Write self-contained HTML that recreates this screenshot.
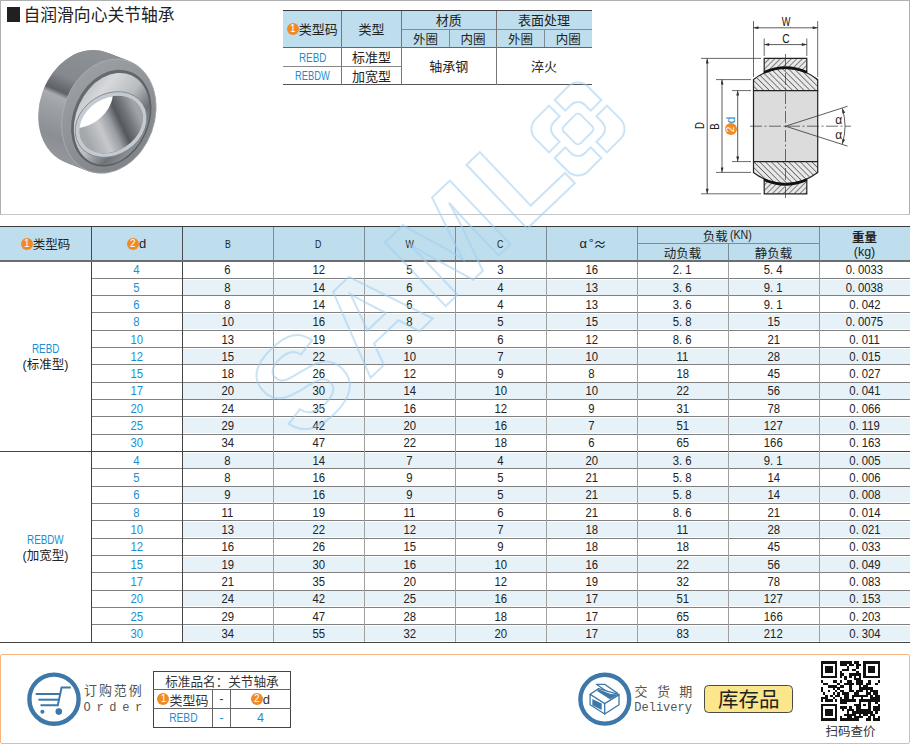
<!DOCTYPE html><html><head><meta charset="utf-8"><title>自润滑向心关节轴承</title><style>
*{margin:0;padding:0;box-sizing:border-box}
html,body{width:910px;height:744px;overflow:hidden;background:#fff}
body{position:relative;font-family:"Liberation Sans", "Noto Sans CJK SC", sans-serif;color:#222}
.ab{position:absolute}
.ln{position:absolute;background:#777}
.c{position:absolute;display:flex;align-items:center;justify-content:center;white-space:nowrap}
.n{font-family:"Liberation Sans",sans-serif;font-size:12.3px;color:#222}
.n span{display:inline-block;transform:scaleX(.92)}
.b{color:#1a8fd0}
i.p{font-style:normal;display:inline-block;width:6.6px;text-align:left}
.oc{display:inline-block;width:12px;height:12px;border-radius:50%;background:#f08a24;color:#fff;font-family:"Liberation Sans",sans-serif;font-size:10px;line-height:12px;text-align:center;vertical-align:middle}
.hd{font-size:12.5px;color:#222}
.lat{font-family:"Liberation Sans",sans-serif}
</style></head><body>
<div class="ab" style="left:0;top:227px;width:910px;height:33px;background:#bedeee"></div>
<div class="ab" style="left:183px;top:279.52px;width:727px;height:15.12px;background:#e6f1f8"></div>
<div class="ab" style="left:183px;top:314.16px;width:727px;height:15.12px;background:#e6f1f8"></div>
<div class="ab" style="left:183px;top:348.80px;width:727px;height:15.12px;background:#e6f1f8"></div>
<div class="ab" style="left:183px;top:383.44px;width:727px;height:15.12px;background:#e6f1f8"></div>
<div class="ab" style="left:183px;top:418.08px;width:727px;height:15.12px;background:#e6f1f8"></div>
<div class="ab" style="left:183px;top:452.72px;width:727px;height:15.12px;background:#e6f1f8"></div>
<div class="ab" style="left:183px;top:487.36px;width:727px;height:15.12px;background:#e6f1f8"></div>
<div class="ab" style="left:183px;top:522.00px;width:727px;height:15.12px;background:#e6f1f8"></div>
<div class="ab" style="left:183px;top:556.64px;width:727px;height:15.12px;background:#e6f1f8"></div>
<div class="ab" style="left:183px;top:591.28px;width:727px;height:15.12px;background:#e6f1f8"></div>
<div class="ab" style="left:183px;top:625.92px;width:727px;height:15.12px;background:#e6f1f8"></div>
<div class="ln" style="left:0;top:226px;width:910px;height:1.4px;background:#3a3a3a"></div>
<div class="ln" style="left:0;top:260px;width:910px;height:2px;background:#6a6e72"></div>
<div class="ln" style="left:637px;top:243px;width:182px;height:1px;background:#7d8c96"></div>
<div class="ln" style="left:91px;top:277.82px;width:819px;height:1px;background:#808080"></div>
<div class="ln" style="left:91px;top:295.14px;width:819px;height:1px;background:#808080"></div>
<div class="ln" style="left:91px;top:312.46px;width:819px;height:1px;background:#808080"></div>
<div class="ln" style="left:91px;top:329.78px;width:819px;height:1px;background:#808080"></div>
<div class="ln" style="left:91px;top:347.10px;width:819px;height:1px;background:#808080"></div>
<div class="ln" style="left:91px;top:364.42px;width:819px;height:1px;background:#808080"></div>
<div class="ln" style="left:91px;top:381.74px;width:819px;height:1px;background:#808080"></div>
<div class="ln" style="left:91px;top:399.06px;width:819px;height:1px;background:#808080"></div>
<div class="ln" style="left:91px;top:416.38px;width:819px;height:1px;background:#808080"></div>
<div class="ln" style="left:91px;top:433.70px;width:819px;height:1px;background:#808080"></div>
<div class="ln" style="left:0;top:451.02px;width:910px;height:1.3px;background:#444"></div>
<div class="ln" style="left:91px;top:468.34px;width:819px;height:1px;background:#808080"></div>
<div class="ln" style="left:91px;top:485.66px;width:819px;height:1px;background:#808080"></div>
<div class="ln" style="left:91px;top:502.98px;width:819px;height:1px;background:#808080"></div>
<div class="ln" style="left:91px;top:520.30px;width:819px;height:1px;background:#808080"></div>
<div class="ln" style="left:91px;top:537.62px;width:819px;height:1px;background:#808080"></div>
<div class="ln" style="left:91px;top:554.94px;width:819px;height:1px;background:#808080"></div>
<div class="ln" style="left:91px;top:572.26px;width:819px;height:1px;background:#808080"></div>
<div class="ln" style="left:91px;top:589.58px;width:819px;height:1px;background:#808080"></div>
<div class="ln" style="left:91px;top:606.90px;width:819px;height:1px;background:#808080"></div>
<div class="ln" style="left:91px;top:624.22px;width:819px;height:1px;background:#808080"></div>
<div class="ln" style="left:0;top:641.5px;width:910px;height:1.4px;background:#444"></div>
<div class="ln" style="left:90.5px;top:227px;width:1px;height:33px;background:#4a4a4a"></div>
<div class="ln" style="left:90.5px;top:262px;width:1.3px;height:380px;background:#444"></div>
<div class="ln" style="left:181.5px;top:227px;width:1px;height:33px;background:#4a4a4a"></div>
<div class="ln" style="left:181.5px;top:262px;width:1.3px;height:380px;background:#444"></div>
<div class="ln" style="left:272.5px;top:227px;width:1px;height:33px;background:#7a8c98"></div>
<div class="ln" style="left:272.5px;top:262px;width:1px;height:380px;background:#a0a0a0"></div>
<div class="ln" style="left:363.5px;top:227px;width:1px;height:33px;background:#7a8c98"></div>
<div class="ln" style="left:363.5px;top:262px;width:1px;height:380px;background:#a0a0a0"></div>
<div class="ln" style="left:454.5px;top:227px;width:1px;height:33px;background:#7a8c98"></div>
<div class="ln" style="left:454.5px;top:262px;width:1px;height:380px;background:#a0a0a0"></div>
<div class="ln" style="left:545.5px;top:227px;width:1px;height:33px;background:#7a8c98"></div>
<div class="ln" style="left:545.5px;top:262px;width:1px;height:380px;background:#a0a0a0"></div>
<div class="ln" style="left:636.5px;top:227px;width:1px;height:33px;background:#7a8c98"></div>
<div class="ln" style="left:636.5px;top:262px;width:1px;height:380px;background:#a0a0a0"></div>
<div class="ln" style="left:727.5px;top:243.5px;width:1px;height:16.5px;background:#7a8c98"></div>
<div class="ln" style="left:727.5px;top:262px;width:1px;height:380px;background:#a0a0a0"></div>
<div class="ln" style="left:818.5px;top:227px;width:1px;height:33px;background:#7a8c98"></div>
<div class="ln" style="left:818.5px;top:262px;width:1px;height:380px;background:#a0a0a0"></div>
<div class="c" style="left:0.0px;top:226.5px;width:91.0px;height:34.5px;"><span class="oc">1</span><span class="hd">类型码</span></div>
<div class="c" style="left:91.0px;top:226.5px;width:91.0px;height:34.5px;"><span class="oc">2</span><span class="hd lat" style="font-size:13px">d</span></div>
<div class="c" style="left:182.0px;top:226.5px;width:91.0px;height:34.5px;"><span class="hd lat" style="font-size:11.8px;display:inline-block;transform:scaleX(.74)">B</span></div>
<div class="c" style="left:273.0px;top:226.5px;width:91.0px;height:34.5px;"><span class="hd lat" style="font-size:11.8px;display:inline-block;transform:scaleX(.74)">D</span></div>
<div class="c" style="left:364.0px;top:226.5px;width:91.0px;height:34.5px;"><span class="hd lat" style="font-size:11.8px;display:inline-block;transform:scaleX(.74)">W</span></div>
<div class="c" style="left:455.0px;top:226.5px;width:91.0px;height:34.5px;"><span class="hd lat" style="font-size:11.8px;display:inline-block;transform:scaleX(.74)">C</span></div>
<div class="c" style="left:546.0px;top:226.5px;width:91.0px;height:34.5px;"><span class="hd" style="font-size:13px;padding-left:3px">α</span><span class="hd" style="font-family:'Noto Sans CJK SC',sans-serif;font-size:12px;margin-left:2px;position:relative;top:-1px">°</span><span class="hd" style="font-family:'Noto Sans CJK SC',sans-serif;font-size:13px">≈</span></div>
<div class="c" style="left:637.0px;top:226.5px;width:182.0px;height:17.0px;"><span class="hd">负载</span><span class="hd" style="display:inline-block;transform:scaleX(.85);margin-left:0px">(KN)</span></div>
<div class="c" style="left:637.0px;top:243.5px;width:91.0px;height:17.5px;"><span class="hd">动负载</span></div>
<div class="c" style="left:728.0px;top:243.5px;width:91.0px;height:17.5px;"><span class="hd">静负载</span></div>
<div class="c" style="left:819.0px;top:229.0px;width:91.0px;height:15.0px;"><span class="hd" style="font-weight:bold">重量</span></div>
<div class="c" style="left:819.0px;top:244.0px;width:91.0px;height:15.0px;"><span class="hd">(kg)</span></div>
<div class="c" style="left:0.0px;top:341.3px;width:91.0px;height:15.0px;padding-top:1px"><span class="b lat" style="font-size:12px;display:inline-block;transform:scaleX(.82)">REBD</span></div>
<div class="c" style="left:0.0px;top:356.3px;width:91.0px;height:15.0px;padding-bottom:0px"><span style="font-size:12.5px">(标准型)</span></div>
<div class="c" style="left:0.0px;top:531.8px;width:91.0px;height:15.0px;padding-top:1px"><span class="b lat" style="font-size:12px;display:inline-block;transform:scaleX(.82)">REBDW</span></div>
<div class="c" style="left:0.0px;top:546.8px;width:91.0px;height:15.0px;padding-bottom:0px"><span style="font-size:12.5px">(加宽型)</span></div>
<div class="c n b" style="left:91.0px;top:261.6px;width:91.0px;height:17.3px;"><span>4</span></div>
<div class="c n" style="left:182.0px;top:261.6px;width:91.0px;height:17.3px;"><span>6</span></div>
<div class="c n" style="left:273.0px;top:261.6px;width:91.0px;height:17.3px;"><span>12</span></div>
<div class="c n" style="left:364.0px;top:261.6px;width:91.0px;height:17.3px;"><span>5</span></div>
<div class="c n" style="left:455.0px;top:261.6px;width:91.0px;height:17.3px;"><span>3</span></div>
<div class="c n" style="left:546.0px;top:261.6px;width:91.0px;height:17.3px;"><span>16</span></div>
<div class="c n" style="left:637.0px;top:261.6px;width:91.0px;height:17.3px;"><span>2<i class="p">.</i>1</span></div>
<div class="c n" style="left:728.0px;top:261.6px;width:91.0px;height:17.3px;"><span>5<i class="p">.</i>4</span></div>
<div class="c n" style="left:819.0px;top:261.6px;width:91.0px;height:17.3px;"><span>0<i class="p">.</i>0033</span></div>
<div class="c n b" style="left:91.0px;top:278.9px;width:91.0px;height:17.3px;"><span>5</span></div>
<div class="c n" style="left:182.0px;top:278.9px;width:91.0px;height:17.3px;"><span>8</span></div>
<div class="c n" style="left:273.0px;top:278.9px;width:91.0px;height:17.3px;"><span>14</span></div>
<div class="c n" style="left:364.0px;top:278.9px;width:91.0px;height:17.3px;"><span>6</span></div>
<div class="c n" style="left:455.0px;top:278.9px;width:91.0px;height:17.3px;"><span>4</span></div>
<div class="c n" style="left:546.0px;top:278.9px;width:91.0px;height:17.3px;"><span>13</span></div>
<div class="c n" style="left:637.0px;top:278.9px;width:91.0px;height:17.3px;"><span>3<i class="p">.</i>6</span></div>
<div class="c n" style="left:728.0px;top:278.9px;width:91.0px;height:17.3px;"><span>9<i class="p">.</i>1</span></div>
<div class="c n" style="left:819.0px;top:278.9px;width:91.0px;height:17.3px;"><span>0<i class="p">.</i>0038</span></div>
<div class="c n b" style="left:91.0px;top:296.2px;width:91.0px;height:17.3px;"><span>6</span></div>
<div class="c n" style="left:182.0px;top:296.2px;width:91.0px;height:17.3px;"><span>8</span></div>
<div class="c n" style="left:273.0px;top:296.2px;width:91.0px;height:17.3px;"><span>14</span></div>
<div class="c n" style="left:364.0px;top:296.2px;width:91.0px;height:17.3px;"><span>6</span></div>
<div class="c n" style="left:455.0px;top:296.2px;width:91.0px;height:17.3px;"><span>4</span></div>
<div class="c n" style="left:546.0px;top:296.2px;width:91.0px;height:17.3px;"><span>13</span></div>
<div class="c n" style="left:637.0px;top:296.2px;width:91.0px;height:17.3px;"><span>3<i class="p">.</i>6</span></div>
<div class="c n" style="left:728.0px;top:296.2px;width:91.0px;height:17.3px;"><span>9<i class="p">.</i>1</span></div>
<div class="c n" style="left:819.0px;top:296.2px;width:91.0px;height:17.3px;"><span>0<i class="p">.</i>042</span></div>
<div class="c n b" style="left:91.0px;top:313.6px;width:91.0px;height:17.3px;"><span>8</span></div>
<div class="c n" style="left:182.0px;top:313.6px;width:91.0px;height:17.3px;"><span>10</span></div>
<div class="c n" style="left:273.0px;top:313.6px;width:91.0px;height:17.3px;"><span>16</span></div>
<div class="c n" style="left:364.0px;top:313.6px;width:91.0px;height:17.3px;"><span>8</span></div>
<div class="c n" style="left:455.0px;top:313.6px;width:91.0px;height:17.3px;"><span>5</span></div>
<div class="c n" style="left:546.0px;top:313.6px;width:91.0px;height:17.3px;"><span>15</span></div>
<div class="c n" style="left:637.0px;top:313.6px;width:91.0px;height:17.3px;"><span>5<i class="p">.</i>8</span></div>
<div class="c n" style="left:728.0px;top:313.6px;width:91.0px;height:17.3px;"><span>15</span></div>
<div class="c n" style="left:819.0px;top:313.6px;width:91.0px;height:17.3px;"><span>0<i class="p">.</i>0075</span></div>
<div class="c n b" style="left:91.0px;top:330.9px;width:91.0px;height:17.3px;"><span>10</span></div>
<div class="c n" style="left:182.0px;top:330.9px;width:91.0px;height:17.3px;"><span>13</span></div>
<div class="c n" style="left:273.0px;top:330.9px;width:91.0px;height:17.3px;"><span>19</span></div>
<div class="c n" style="left:364.0px;top:330.9px;width:91.0px;height:17.3px;"><span>9</span></div>
<div class="c n" style="left:455.0px;top:330.9px;width:91.0px;height:17.3px;"><span>6</span></div>
<div class="c n" style="left:546.0px;top:330.9px;width:91.0px;height:17.3px;"><span>12</span></div>
<div class="c n" style="left:637.0px;top:330.9px;width:91.0px;height:17.3px;"><span>8<i class="p">.</i>6</span></div>
<div class="c n" style="left:728.0px;top:330.9px;width:91.0px;height:17.3px;"><span>21</span></div>
<div class="c n" style="left:819.0px;top:330.9px;width:91.0px;height:17.3px;"><span>0<i class="p">.</i>011</span></div>
<div class="c n b" style="left:91.0px;top:348.2px;width:91.0px;height:17.3px;"><span>12</span></div>
<div class="c n" style="left:182.0px;top:348.2px;width:91.0px;height:17.3px;"><span>15</span></div>
<div class="c n" style="left:273.0px;top:348.2px;width:91.0px;height:17.3px;"><span>22</span></div>
<div class="c n" style="left:364.0px;top:348.2px;width:91.0px;height:17.3px;"><span>10</span></div>
<div class="c n" style="left:455.0px;top:348.2px;width:91.0px;height:17.3px;"><span>7</span></div>
<div class="c n" style="left:546.0px;top:348.2px;width:91.0px;height:17.3px;"><span>10</span></div>
<div class="c n" style="left:637.0px;top:348.2px;width:91.0px;height:17.3px;"><span>11</span></div>
<div class="c n" style="left:728.0px;top:348.2px;width:91.0px;height:17.3px;"><span>28</span></div>
<div class="c n" style="left:819.0px;top:348.2px;width:91.0px;height:17.3px;"><span>0<i class="p">.</i>015</span></div>
<div class="c n b" style="left:91.0px;top:365.5px;width:91.0px;height:17.3px;"><span>15</span></div>
<div class="c n" style="left:182.0px;top:365.5px;width:91.0px;height:17.3px;"><span>18</span></div>
<div class="c n" style="left:273.0px;top:365.5px;width:91.0px;height:17.3px;"><span>26</span></div>
<div class="c n" style="left:364.0px;top:365.5px;width:91.0px;height:17.3px;"><span>12</span></div>
<div class="c n" style="left:455.0px;top:365.5px;width:91.0px;height:17.3px;"><span>9</span></div>
<div class="c n" style="left:546.0px;top:365.5px;width:91.0px;height:17.3px;"><span>8</span></div>
<div class="c n" style="left:637.0px;top:365.5px;width:91.0px;height:17.3px;"><span>18</span></div>
<div class="c n" style="left:728.0px;top:365.5px;width:91.0px;height:17.3px;"><span>45</span></div>
<div class="c n" style="left:819.0px;top:365.5px;width:91.0px;height:17.3px;"><span>0<i class="p">.</i>027</span></div>
<div class="c n b" style="left:91.0px;top:382.8px;width:91.0px;height:17.3px;"><span>17</span></div>
<div class="c n" style="left:182.0px;top:382.8px;width:91.0px;height:17.3px;"><span>20</span></div>
<div class="c n" style="left:273.0px;top:382.8px;width:91.0px;height:17.3px;"><span>30</span></div>
<div class="c n" style="left:364.0px;top:382.8px;width:91.0px;height:17.3px;"><span>14</span></div>
<div class="c n" style="left:455.0px;top:382.8px;width:91.0px;height:17.3px;"><span>10</span></div>
<div class="c n" style="left:546.0px;top:382.8px;width:91.0px;height:17.3px;"><span>10</span></div>
<div class="c n" style="left:637.0px;top:382.8px;width:91.0px;height:17.3px;"><span>22</span></div>
<div class="c n" style="left:728.0px;top:382.8px;width:91.0px;height:17.3px;"><span>56</span></div>
<div class="c n" style="left:819.0px;top:382.8px;width:91.0px;height:17.3px;"><span>0<i class="p">.</i>041</span></div>
<div class="c n b" style="left:91.0px;top:400.2px;width:91.0px;height:17.3px;"><span>20</span></div>
<div class="c n" style="left:182.0px;top:400.2px;width:91.0px;height:17.3px;"><span>24</span></div>
<div class="c n" style="left:273.0px;top:400.2px;width:91.0px;height:17.3px;"><span>35</span></div>
<div class="c n" style="left:364.0px;top:400.2px;width:91.0px;height:17.3px;"><span>16</span></div>
<div class="c n" style="left:455.0px;top:400.2px;width:91.0px;height:17.3px;"><span>12</span></div>
<div class="c n" style="left:546.0px;top:400.2px;width:91.0px;height:17.3px;"><span>9</span></div>
<div class="c n" style="left:637.0px;top:400.2px;width:91.0px;height:17.3px;"><span>31</span></div>
<div class="c n" style="left:728.0px;top:400.2px;width:91.0px;height:17.3px;"><span>78</span></div>
<div class="c n" style="left:819.0px;top:400.2px;width:91.0px;height:17.3px;"><span>0<i class="p">.</i>066</span></div>
<div class="c n b" style="left:91.0px;top:417.5px;width:91.0px;height:17.3px;"><span>25</span></div>
<div class="c n" style="left:182.0px;top:417.5px;width:91.0px;height:17.3px;"><span>29</span></div>
<div class="c n" style="left:273.0px;top:417.5px;width:91.0px;height:17.3px;"><span>42</span></div>
<div class="c n" style="left:364.0px;top:417.5px;width:91.0px;height:17.3px;"><span>20</span></div>
<div class="c n" style="left:455.0px;top:417.5px;width:91.0px;height:17.3px;"><span>16</span></div>
<div class="c n" style="left:546.0px;top:417.5px;width:91.0px;height:17.3px;"><span>7</span></div>
<div class="c n" style="left:637.0px;top:417.5px;width:91.0px;height:17.3px;"><span>51</span></div>
<div class="c n" style="left:728.0px;top:417.5px;width:91.0px;height:17.3px;"><span>127</span></div>
<div class="c n" style="left:819.0px;top:417.5px;width:91.0px;height:17.3px;"><span>0<i class="p">.</i>119</span></div>
<div class="c n b" style="left:91.0px;top:434.8px;width:91.0px;height:17.3px;"><span>30</span></div>
<div class="c n" style="left:182.0px;top:434.8px;width:91.0px;height:17.3px;"><span>34</span></div>
<div class="c n" style="left:273.0px;top:434.8px;width:91.0px;height:17.3px;"><span>47</span></div>
<div class="c n" style="left:364.0px;top:434.8px;width:91.0px;height:17.3px;"><span>22</span></div>
<div class="c n" style="left:455.0px;top:434.8px;width:91.0px;height:17.3px;"><span>18</span></div>
<div class="c n" style="left:546.0px;top:434.8px;width:91.0px;height:17.3px;"><span>6</span></div>
<div class="c n" style="left:637.0px;top:434.8px;width:91.0px;height:17.3px;"><span>65</span></div>
<div class="c n" style="left:728.0px;top:434.8px;width:91.0px;height:17.3px;"><span>166</span></div>
<div class="c n" style="left:819.0px;top:434.8px;width:91.0px;height:17.3px;"><span>0<i class="p">.</i>163</span></div>
<div class="c n b" style="left:91.0px;top:452.1px;width:91.0px;height:17.3px;"><span>4</span></div>
<div class="c n" style="left:182.0px;top:452.1px;width:91.0px;height:17.3px;"><span>8</span></div>
<div class="c n" style="left:273.0px;top:452.1px;width:91.0px;height:17.3px;"><span>14</span></div>
<div class="c n" style="left:364.0px;top:452.1px;width:91.0px;height:17.3px;"><span>7</span></div>
<div class="c n" style="left:455.0px;top:452.1px;width:91.0px;height:17.3px;"><span>4</span></div>
<div class="c n" style="left:546.0px;top:452.1px;width:91.0px;height:17.3px;"><span>20</span></div>
<div class="c n" style="left:637.0px;top:452.1px;width:91.0px;height:17.3px;"><span>3<i class="p">.</i>6</span></div>
<div class="c n" style="left:728.0px;top:452.1px;width:91.0px;height:17.3px;"><span>9<i class="p">.</i>1</span></div>
<div class="c n" style="left:819.0px;top:452.1px;width:91.0px;height:17.3px;"><span>0<i class="p">.</i>005</span></div>
<div class="c n b" style="left:91.0px;top:469.4px;width:91.0px;height:17.3px;"><span>5</span></div>
<div class="c n" style="left:182.0px;top:469.4px;width:91.0px;height:17.3px;"><span>8</span></div>
<div class="c n" style="left:273.0px;top:469.4px;width:91.0px;height:17.3px;"><span>16</span></div>
<div class="c n" style="left:364.0px;top:469.4px;width:91.0px;height:17.3px;"><span>9</span></div>
<div class="c n" style="left:455.0px;top:469.4px;width:91.0px;height:17.3px;"><span>5</span></div>
<div class="c n" style="left:546.0px;top:469.4px;width:91.0px;height:17.3px;"><span>21</span></div>
<div class="c n" style="left:637.0px;top:469.4px;width:91.0px;height:17.3px;"><span>5<i class="p">.</i>8</span></div>
<div class="c n" style="left:728.0px;top:469.4px;width:91.0px;height:17.3px;"><span>14</span></div>
<div class="c n" style="left:819.0px;top:469.4px;width:91.0px;height:17.3px;"><span>0<i class="p">.</i>006</span></div>
<div class="c n b" style="left:91.0px;top:486.8px;width:91.0px;height:17.3px;"><span>6</span></div>
<div class="c n" style="left:182.0px;top:486.8px;width:91.0px;height:17.3px;"><span>9</span></div>
<div class="c n" style="left:273.0px;top:486.8px;width:91.0px;height:17.3px;"><span>16</span></div>
<div class="c n" style="left:364.0px;top:486.8px;width:91.0px;height:17.3px;"><span>9</span></div>
<div class="c n" style="left:455.0px;top:486.8px;width:91.0px;height:17.3px;"><span>5</span></div>
<div class="c n" style="left:546.0px;top:486.8px;width:91.0px;height:17.3px;"><span>21</span></div>
<div class="c n" style="left:637.0px;top:486.8px;width:91.0px;height:17.3px;"><span>5<i class="p">.</i>8</span></div>
<div class="c n" style="left:728.0px;top:486.8px;width:91.0px;height:17.3px;"><span>14</span></div>
<div class="c n" style="left:819.0px;top:486.8px;width:91.0px;height:17.3px;"><span>0<i class="p">.</i>008</span></div>
<div class="c n b" style="left:91.0px;top:504.1px;width:91.0px;height:17.3px;"><span>8</span></div>
<div class="c n" style="left:182.0px;top:504.1px;width:91.0px;height:17.3px;"><span>11</span></div>
<div class="c n" style="left:273.0px;top:504.1px;width:91.0px;height:17.3px;"><span>19</span></div>
<div class="c n" style="left:364.0px;top:504.1px;width:91.0px;height:17.3px;"><span>11</span></div>
<div class="c n" style="left:455.0px;top:504.1px;width:91.0px;height:17.3px;"><span>6</span></div>
<div class="c n" style="left:546.0px;top:504.1px;width:91.0px;height:17.3px;"><span>21</span></div>
<div class="c n" style="left:637.0px;top:504.1px;width:91.0px;height:17.3px;"><span>8<i class="p">.</i>6</span></div>
<div class="c n" style="left:728.0px;top:504.1px;width:91.0px;height:17.3px;"><span>21</span></div>
<div class="c n" style="left:819.0px;top:504.1px;width:91.0px;height:17.3px;"><span>0<i class="p">.</i>014</span></div>
<div class="c n b" style="left:91.0px;top:521.4px;width:91.0px;height:17.3px;"><span>10</span></div>
<div class="c n" style="left:182.0px;top:521.4px;width:91.0px;height:17.3px;"><span>13</span></div>
<div class="c n" style="left:273.0px;top:521.4px;width:91.0px;height:17.3px;"><span>22</span></div>
<div class="c n" style="left:364.0px;top:521.4px;width:91.0px;height:17.3px;"><span>12</span></div>
<div class="c n" style="left:455.0px;top:521.4px;width:91.0px;height:17.3px;"><span>7</span></div>
<div class="c n" style="left:546.0px;top:521.4px;width:91.0px;height:17.3px;"><span>18</span></div>
<div class="c n" style="left:637.0px;top:521.4px;width:91.0px;height:17.3px;"><span>11</span></div>
<div class="c n" style="left:728.0px;top:521.4px;width:91.0px;height:17.3px;"><span>28</span></div>
<div class="c n" style="left:819.0px;top:521.4px;width:91.0px;height:17.3px;"><span>0<i class="p">.</i>021</span></div>
<div class="c n b" style="left:91.0px;top:538.7px;width:91.0px;height:17.3px;"><span>12</span></div>
<div class="c n" style="left:182.0px;top:538.7px;width:91.0px;height:17.3px;"><span>16</span></div>
<div class="c n" style="left:273.0px;top:538.7px;width:91.0px;height:17.3px;"><span>26</span></div>
<div class="c n" style="left:364.0px;top:538.7px;width:91.0px;height:17.3px;"><span>15</span></div>
<div class="c n" style="left:455.0px;top:538.7px;width:91.0px;height:17.3px;"><span>9</span></div>
<div class="c n" style="left:546.0px;top:538.7px;width:91.0px;height:17.3px;"><span>18</span></div>
<div class="c n" style="left:637.0px;top:538.7px;width:91.0px;height:17.3px;"><span>18</span></div>
<div class="c n" style="left:728.0px;top:538.7px;width:91.0px;height:17.3px;"><span>45</span></div>
<div class="c n" style="left:819.0px;top:538.7px;width:91.0px;height:17.3px;"><span>0<i class="p">.</i>033</span></div>
<div class="c n b" style="left:91.0px;top:556.0px;width:91.0px;height:17.3px;"><span>15</span></div>
<div class="c n" style="left:182.0px;top:556.0px;width:91.0px;height:17.3px;"><span>19</span></div>
<div class="c n" style="left:273.0px;top:556.0px;width:91.0px;height:17.3px;"><span>30</span></div>
<div class="c n" style="left:364.0px;top:556.0px;width:91.0px;height:17.3px;"><span>16</span></div>
<div class="c n" style="left:455.0px;top:556.0px;width:91.0px;height:17.3px;"><span>10</span></div>
<div class="c n" style="left:546.0px;top:556.0px;width:91.0px;height:17.3px;"><span>16</span></div>
<div class="c n" style="left:637.0px;top:556.0px;width:91.0px;height:17.3px;"><span>22</span></div>
<div class="c n" style="left:728.0px;top:556.0px;width:91.0px;height:17.3px;"><span>56</span></div>
<div class="c n" style="left:819.0px;top:556.0px;width:91.0px;height:17.3px;"><span>0<i class="p">.</i>049</span></div>
<div class="c n b" style="left:91.0px;top:573.4px;width:91.0px;height:17.3px;"><span>17</span></div>
<div class="c n" style="left:182.0px;top:573.4px;width:91.0px;height:17.3px;"><span>21</span></div>
<div class="c n" style="left:273.0px;top:573.4px;width:91.0px;height:17.3px;"><span>35</span></div>
<div class="c n" style="left:364.0px;top:573.4px;width:91.0px;height:17.3px;"><span>20</span></div>
<div class="c n" style="left:455.0px;top:573.4px;width:91.0px;height:17.3px;"><span>12</span></div>
<div class="c n" style="left:546.0px;top:573.4px;width:91.0px;height:17.3px;"><span>19</span></div>
<div class="c n" style="left:637.0px;top:573.4px;width:91.0px;height:17.3px;"><span>32</span></div>
<div class="c n" style="left:728.0px;top:573.4px;width:91.0px;height:17.3px;"><span>78</span></div>
<div class="c n" style="left:819.0px;top:573.4px;width:91.0px;height:17.3px;"><span>0<i class="p">.</i>083</span></div>
<div class="c n b" style="left:91.0px;top:590.7px;width:91.0px;height:17.3px;"><span>20</span></div>
<div class="c n" style="left:182.0px;top:590.7px;width:91.0px;height:17.3px;"><span>24</span></div>
<div class="c n" style="left:273.0px;top:590.7px;width:91.0px;height:17.3px;"><span>42</span></div>
<div class="c n" style="left:364.0px;top:590.7px;width:91.0px;height:17.3px;"><span>25</span></div>
<div class="c n" style="left:455.0px;top:590.7px;width:91.0px;height:17.3px;"><span>16</span></div>
<div class="c n" style="left:546.0px;top:590.7px;width:91.0px;height:17.3px;"><span>17</span></div>
<div class="c n" style="left:637.0px;top:590.7px;width:91.0px;height:17.3px;"><span>51</span></div>
<div class="c n" style="left:728.0px;top:590.7px;width:91.0px;height:17.3px;"><span>127</span></div>
<div class="c n" style="left:819.0px;top:590.7px;width:91.0px;height:17.3px;"><span>0<i class="p">.</i>153</span></div>
<div class="c n b" style="left:91.0px;top:608.0px;width:91.0px;height:17.3px;"><span>25</span></div>
<div class="c n" style="left:182.0px;top:608.0px;width:91.0px;height:17.3px;"><span>29</span></div>
<div class="c n" style="left:273.0px;top:608.0px;width:91.0px;height:17.3px;"><span>47</span></div>
<div class="c n" style="left:364.0px;top:608.0px;width:91.0px;height:17.3px;"><span>28</span></div>
<div class="c n" style="left:455.0px;top:608.0px;width:91.0px;height:17.3px;"><span>18</span></div>
<div class="c n" style="left:546.0px;top:608.0px;width:91.0px;height:17.3px;"><span>17</span></div>
<div class="c n" style="left:637.0px;top:608.0px;width:91.0px;height:17.3px;"><span>65</span></div>
<div class="c n" style="left:728.0px;top:608.0px;width:91.0px;height:17.3px;"><span>166</span></div>
<div class="c n" style="left:819.0px;top:608.0px;width:91.0px;height:17.3px;"><span>0<i class="p">.</i>203</span></div>
<div class="c n b" style="left:91.0px;top:625.3px;width:91.0px;height:17.3px;"><span>30</span></div>
<div class="c n" style="left:182.0px;top:625.3px;width:91.0px;height:17.3px;"><span>34</span></div>
<div class="c n" style="left:273.0px;top:625.3px;width:91.0px;height:17.3px;"><span>55</span></div>
<div class="c n" style="left:364.0px;top:625.3px;width:91.0px;height:17.3px;"><span>32</span></div>
<div class="c n" style="left:455.0px;top:625.3px;width:91.0px;height:17.3px;"><span>20</span></div>
<div class="c n" style="left:546.0px;top:625.3px;width:91.0px;height:17.3px;"><span>17</span></div>
<div class="c n" style="left:637.0px;top:625.3px;width:91.0px;height:17.3px;"><span>83</span></div>
<div class="c n" style="left:728.0px;top:625.3px;width:91.0px;height:17.3px;"><span>212</span></div>
<div class="c n" style="left:819.0px;top:625.3px;width:91.0px;height:17.3px;"><span>0<i class="p">.</i>304</span></div>
<div class="ab" style="left:0;top:0;width:910px;height:214.5px;border:1.2px solid #b0b0b0;border-bottom-color:#c6c6c6"></div>
<div class="ab" style="left:7px;top:7px;width:13px;height:14.5px;background:#231f20"></div>
<div class="ab" style="left:23.5px;top:4.9px;font-size:16.8px;line-height:22px;color:#222;white-space:nowrap">自润滑向心关节轴承</div>
<div class="ab" style="left:282.5px;top:10.5px;width:309.1px;height:36.8px;background:#bedeee"></div>
<div class="ln" style="left:282.5px;top:9.85px;width:309.1px;height:1.3px;background:#3a3a3a"></div>
<div class="ln" style="left:401.3px;top:28.80px;width:190.3px;height:1px;background:#7d8c96"></div>
<div class="ln" style="left:282.5px;top:46.65px;width:309.1px;height:1.3px;background:#666"></div>
<div class="ln" style="left:282.5px;top:66.00px;width:118.8px;height:1px;background:#888"></div>
<div class="ln" style="left:282.5px;top:84.05px;width:309.1px;height:1.3px;background:#555"></div>
<div class="ln" style="left:341.40px;top:10.5px;width:1px;height:74.2px;background:#777"></div>
<div class="ln" style="left:400.80px;top:10.5px;width:1px;height:74.2px;background:#777"></div>
<div class="ln" style="left:495.90px;top:10.5px;width:1px;height:74.2px;background:#777"></div>
<div class="ln" style="left:449.00px;top:29.3px;width:1px;height:18.0px;background:#7d8c96"></div>
<div class="ln" style="left:544.30px;top:29.3px;width:1px;height:18.0px;background:#7d8c96"></div>
<div class="c" style="left:282.5px;top:10.5px;width:59.4px;height:36.8px;"><span class="oc">1</span><span style="font-size:13px">类型码</span></div>
<div class="c" style="left:341.9px;top:10.5px;width:59.4px;height:36.8px;"><span style="font-size:13px">类型</span></div>
<div class="c" style="left:401.3px;top:10.5px;width:95.1px;height:18.8px;"><span style="font-size:13px">材质</span></div>
<div class="c" style="left:496.4px;top:10.5px;width:95.2px;height:18.8px;"><span style="font-size:13px">表面处理</span></div>
<div class="c" style="left:401.3px;top:29.3px;width:48.2px;height:18.0px;"><span style="font-size:12.5px">外圈</span></div>
<div class="c" style="left:449.5px;top:29.3px;width:46.9px;height:18.0px;"><span style="font-size:12.5px">内圈</span></div>
<div class="c" style="left:496.4px;top:29.3px;width:48.4px;height:18.0px;"><span style="font-size:12.5px">外圈</span></div>
<div class="c" style="left:544.8px;top:29.3px;width:46.8px;height:18.0px;"><span style="font-size:12.5px">内圈</span></div>
<div class="c" style="left:282.5px;top:47.3px;width:59.4px;height:19.2px;padding-top:2px"><span class="b lat" style="font-size:12px;display:inline-block;transform:scaleX(.82)">REBD</span></div>
<div class="c" style="left:282.5px;top:66.5px;width:59.4px;height:18.2px;padding-top:1.5px"><span class="b lat" style="font-size:12px;display:inline-block;transform:scaleX(.78)">REBDW</span></div>
<div class="c" style="left:341.9px;top:47.3px;width:59.4px;height:19.2px;"><span style="font-size:13px">标准型</span></div>
<div class="c" style="left:341.9px;top:66.5px;width:59.4px;height:18.2px;"><span style="font-size:13px">加宽型</span></div>
<div class="c" style="left:401.3px;top:47.3px;width:95.1px;height:37.4px;"><span style="font-size:13px">轴承钢</span></div>
<div class="c" style="left:496.4px;top:47.3px;width:95.2px;height:37.4px;"><span style="font-size:13px">淬火</span></div>
<svg class="ab" style="left:0;top:0" width="200" height="200" viewBox="0 0 200 200"><defs><linearGradient id="gBody" gradientUnits="userSpaceOnUse" x1="100" y1="50" x2="50" y2="165"><stop offset="0" stop-color="#8e9297"/><stop offset=".3" stop-color="#858a8f"/><stop offset=".39" stop-color="#6a6e73"/><stop offset=".43" stop-color="#5f6368"/><stop offset=".47" stop-color="#a9adb1"/><stop offset=".56" stop-color="#9da1a6"/><stop offset=".78" stop-color="#8b8f94"/><stop offset="1" stop-color="#979ba0"/></linearGradient><linearGradient id="gFace" gradientUnits="userSpaceOnUse" x1="75" y1="60" x2="145" y2="170"><stop offset="0" stop-color="#9ea1a5"/><stop offset=".5" stop-color="#8f9297"/><stop offset="1" stop-color="#7c7f84"/></linearGradient><linearGradient id="gCh" gradientUnits="userSpaceOnUse" x1="75" y1="70" x2="145" y2="160"><stop offset="0" stop-color="#6a6d72"/><stop offset="1" stop-color="#55585d"/></linearGradient><linearGradient id="gIn" gradientUnits="userSpaceOnUse" x1="80" y1="80" x2="145" y2="130"><stop offset="0" stop-color="#b4b7bb"/><stop offset=".3" stop-color="#d6d8db"/><stop offset=".6" stop-color="#b9bcbf"/><stop offset=".85" stop-color="#6e7176"/><stop offset="1" stop-color="#8a8d91"/></linearGradient><linearGradient id="gBore" gradientUnits="userSpaceOnUse" x1="88" y1="142" x2="140" y2="118"><stop offset="0" stop-color="#a4a7ab"/><stop offset=".3" stop-color="#c6c8cb"/><stop offset=".5" stop-color="#9a9da1"/><stop offset=".66" stop-color="#55585d"/><stop offset=".82" stop-color="#74777c"/><stop offset="1" stop-color="#a0a3a7"/></linearGradient><clipPath id="cBore"><path d="M139.50,106.14 A33.90,26.50 -32.8 1 1 82.50,142.86 A33.90,26.50 -32.8 1 1 139.50,106.14 Z" fill="#000" /></clipPath></defs><path d="M128.35,122.70 A45.60,58.50 20.0 1 1 42.65,91.50 A45.60,58.50 20.0 1 1 128.35,122.70 Z" fill="url(#gBody)" /><path d="M129.65,123.20 A45.60,58.50 20.0 1 1 43.95,92.01 A45.60,58.50 20.0 1 1 129.65,123.20 Z" fill="url(#gBody)" /><path d="M130.95,123.71 A45.60,58.50 20.0 1 1 45.25,92.51 A45.60,58.50 20.0 1 1 130.95,123.71 Z" fill="url(#gBody)" /><path d="M132.25,124.21 A45.60,58.50 20.0 1 1 46.55,93.02 A45.60,58.50 20.0 1 1 132.25,124.21 Z" fill="url(#gBody)" /><path d="M133.55,124.72 A45.60,58.50 20.0 1 1 47.85,93.53 A45.60,58.50 20.0 1 1 133.55,124.72 Z" fill="url(#gBody)" /><path d="M134.85,125.22 A45.60,58.50 20.0 1 1 49.15,94.03 A45.60,58.50 20.0 1 1 134.85,125.22 Z" fill="url(#gBody)" /><path d="M136.15,125.73 A45.60,58.50 20.0 1 1 50.45,94.54 A45.60,58.50 20.0 1 1 136.15,125.73 Z" fill="url(#gBody)" /><path d="M137.45,126.24 A45.60,58.50 20.0 1 1 51.75,95.04 A45.60,58.50 20.0 1 1 137.45,126.24 Z" fill="url(#gBody)" /><path d="M138.75,126.74 A45.60,58.50 20.0 1 1 53.05,95.55 A45.60,58.50 20.0 1 1 138.75,126.74 Z" fill="url(#gBody)" /><path d="M140.05,127.25 A45.60,58.50 20.0 1 1 54.35,96.05 A45.60,58.50 20.0 1 1 140.05,127.25 Z" fill="url(#gBody)" /><path d="M141.35,127.75 A45.60,58.50 20.0 1 1 55.65,96.56 A45.60,58.50 20.0 1 1 141.35,127.75 Z" fill="url(#gBody)" /><path d="M142.65,128.26 A45.60,58.50 20.0 1 1 56.95,97.06 A45.60,58.50 20.0 1 1 142.65,128.26 Z" fill="url(#gBody)" /><path d="M143.95,128.76 A45.60,58.50 20.0 1 1 58.25,97.57 A45.60,58.50 20.0 1 1 143.95,128.76 Z" fill="url(#gBody)" /><path d="M145.25,129.27 A45.60,58.50 20.0 1 1 59.55,98.08 A45.60,58.50 20.0 1 1 145.25,129.27 Z" fill="url(#gBody)" /><path d="M146.55,129.77 A45.60,58.50 20.0 1 1 60.85,98.58 A45.60,58.50 20.0 1 1 146.55,129.77 Z" fill="url(#gBody)" /><path d="M147.85,130.28 A45.60,58.50 20.0 1 1 62.15,99.09 A45.60,58.50 20.0 1 1 147.85,130.28 Z" fill="url(#gBody)" /><path d="M149.15,130.79 A45.60,58.50 20.0 1 1 63.45,99.59 A45.60,58.50 20.0 1 1 149.15,130.79 Z" fill="url(#gBody)" /><path d="M150.45,131.29 A45.60,58.50 20.0 1 1 64.75,100.10 A45.60,58.50 20.0 1 1 150.45,131.29 Z" fill="url(#gBody)" /><path d="M151.75,131.80 A45.60,58.50 20.0 1 1 66.05,100.60 A45.60,58.50 20.0 1 1 151.75,131.80 Z" fill="url(#gBody)" /><path d="M151.75,131.80 A45.60,58.50 20.0 1 1 66.05,100.60 A45.60,58.50 20.0 1 1 151.75,131.80 Z" fill="url(#gFace)" stroke="#b0b3b7" stroke-width="0.7"/><path d="M145.92,133.52 A37.90,49.80 24.0 1 1 76.68,102.68 A37.90,49.80 24.0 1 1 145.92,133.52 Z" fill="url(#gCh)" /><path d="M144.32,133.48 A35.60,47.30 24.0 1 1 79.28,104.52 A35.60,47.30 24.0 1 1 144.32,133.48 Z" fill="url(#gIn)" /><path d="M139.50,106.14 A33.90,26.50 -32.8 1 1 82.50,142.86 A33.90,26.50 -32.8 1 1 139.50,106.14 Z" fill="url(#gBore)" /><g clip-path="url(#cBore)"><path d="M109.50,81.14 A33.90,26.50 -32.8 1 1 52.50,117.86 A33.90,26.50 -32.8 1 1 109.50,81.14 Z" fill="#ffffff" /></g><path d="M141.18,105.05 A35.90,28.50 -32.8 1 1 80.82,143.95 A35.90,28.50 -32.8 1 1 141.18,105.05 Z" fill="none" stroke="#c3cad1" stroke-width="4"/><path d="M142.86,103.97 A37.90,30.50 -32.8 1 1 79.14,145.03 A37.90,30.50 -32.8 1 1 142.86,103.97 Z" fill="none" stroke="#6f7277" stroke-width="0.7"/></svg>
<svg class="ab" style="left:0;top:0" width="910" height="214" viewBox="0 0 910 214"><defs><pattern id="h1" patternUnits="userSpaceOnUse" width="3.9" height="3.9" patternTransform="rotate(45)"><rect width="3.9" height="3.9" fill="#e8e8e8"/><line x1="0" y1="0" x2="0" y2="3.9" stroke="#2a2a2a" stroke-width="1.1"/></pattern><pattern id="h2" patternUnits="userSpaceOnUse" width="4.1" height="4.1" patternTransform="rotate(-45)"><rect width="4.1" height="4.1" fill="#e8e8e8"/><line x1="0" y1="0" x2="0" y2="4.1" stroke="#2a2a2a" stroke-width="1.1"/></pattern><marker id="ar" viewBox="0 0 10 6" refX="10" refY="3" markerWidth="6.5" markerHeight="3" orient="auto-start-reverse" markerUnits="userSpaceOnUse"><path d="M0,0 L10,3 L0,6 z" fill="#333"/></marker></defs><line x1="753.5" y1="21" x2="753.5" y2="77" stroke="#444" stroke-width=".8"/><line x1="817.7" y1="21" x2="817.7" y2="77" stroke="#444" stroke-width=".8"/><line x1="764.2" y1="38.5" x2="764.2" y2="56" stroke="#444" stroke-width=".8"/><line x1="806.8" y1="38.5" x2="806.8" y2="56" stroke="#444" stroke-width=".8"/><line x1="753.5" y1="27.8" x2="817.7" y2="27.8" stroke="#333" stroke-width=".8" marker-start="url(#ar)" marker-end="url(#ar)"/><line x1="764.2" y1="44.6" x2="806.8" y2="44.6" stroke="#333" stroke-width=".8" marker-start="url(#ar)" marker-end="url(#ar)"/><line x1="701" y1="58.4" x2="761" y2="58.4" stroke="#444" stroke-width=".8"/><line x1="701" y1="193.8" x2="761" y2="193.8" stroke="#444" stroke-width=".8"/><line x1="716" y1="79.6" x2="751" y2="79.6" stroke="#444" stroke-width=".8"/><line x1="716" y1="172.4" x2="751" y2="172.4" stroke="#444" stroke-width=".8"/><line x1="732" y1="90.6" x2="751" y2="90.6" stroke="#444" stroke-width=".8"/><line x1="732" y1="161.6" x2="751" y2="161.6" stroke="#444" stroke-width=".8"/><line x1="707.2" y1="58.4" x2="707.2" y2="193.8" stroke="#333" stroke-width=".8" marker-start="url(#ar)" marker-end="url(#ar)"/><line x1="722.0" y1="79.6" x2="722.0" y2="172.4" stroke="#333" stroke-width=".8" marker-start="url(#ar)" marker-end="url(#ar)"/><line x1="737.7" y1="90.6" x2="737.7" y2="161.6" stroke="#333" stroke-width=".8" marker-start="url(#ar)" marker-end="url(#ar)"/><rect x="753.5" y="90.6" width="64.2" height="71" fill="#dcdcdc"/><path d="M753.5,90.6 L753.5,79.4 A52.7,52.7 0 0 1 817.7,79.4 L817.7,90.6 Z" fill="url(#h2)" stroke="#222" stroke-width="1.2"/><path d="M753.5,161.6 L753.5,172.6 A52.7,52.7 0 0 0 817.7,172.6 L817.7,161.6 Z" fill="url(#h2)" stroke="#222" stroke-width="1.2"/><path d="M764.2,58.4 L806.8,58.4 L806.8,72.2 A54,54 0 0 0 764.2,72.2 Z" fill="url(#h1)" stroke="#222" stroke-width="1.2"/><path d="M764.2,72.2 A54,54 0 0 1 806.8,72.2" stroke="#111" stroke-width="2.6" fill="none"/><path d="M764.2,193.8 L806.8,193.8 L806.8,179.8 A54,54 0 0 1 764.2,179.8 Z" fill="url(#h1)" stroke="#222" stroke-width="1.2"/><path d="M764.2,179.8 A54,54 0 0 0 806.8,179.8" stroke="#111" stroke-width="2.6" fill="none"/><line x1="753.5" y1="90.6" x2="753.5" y2="161.6" stroke="#222" stroke-width="1.2"/><line x1="817.7" y1="90.6" x2="817.7" y2="161.6" stroke="#222" stroke-width="1.2"/><line x1="785.5" y1="54" x2="785.5" y2="198" stroke="#333" stroke-width=".7" stroke-dasharray="12,2.5,2,2.5"/><line x1="750" y1="126.2" x2="851" y2="126.2" stroke="#333" stroke-width=".7" stroke-dasharray="12,2.5,2,2.5"/><line x1="785.5" y1="126.2" x2="847.5" y2="106.3" stroke="#333" stroke-width=".8"/><line x1="785.5" y1="126.2" x2="847.5" y2="146.1" stroke="#333" stroke-width=".8"/><path d="M842.25,108.31 A59.5,59.5 0 0 1 842.25,144.09" stroke="#333" stroke-width=".8" fill="none" marker-start="url(#ar)" marker-end="url(#ar)"/></svg>
<div class="ab lat" style="left:778.5px;top:14.6px;width:14px;text-align:center;font-size:12.8px;line-height:13px;color:#111;transform:scaleX(.72)">W</div>
<div class="ab lat" style="left:778.5px;top:32px;width:14px;text-align:center;font-size:12.8px;line-height:13px;color:#111;transform:scaleX(.8)">C</div>
<div class="ab lat" style="left:693.5px;top:119px;width:13px;text-align:center;font-size:12px;line-height:13px;color:#222;transform:rotate(-90deg) scaleX(.8)">D</div>
<div class="ab lat" style="left:709px;top:120px;width:13px;text-align:center;font-size:12px;line-height:13px;color:#222;transform:rotate(-90deg) scaleX(.8)">B</div>
<div class="ab" style="left:717px;top:119px;width:26px;height:14px;line-height:14px;text-align:center;transform:rotate(-90deg);white-space:nowrap"><span class="oc">2</span><span class="lat b" style="font-size:12px">d</span></div>
<div class="ab" style="left:835.3px;top:113.6px;font-size:12px;line-height:13px;color:#222">α</div>
<div class="ab" style="left:835.3px;top:128.6px;font-size:12px;line-height:13px;color:#222">α</div>
<div class="ab" style="left:0;top:654px;width:910px;height:90px;border:1.7px solid #f7b582;border-radius:2px"></div>
<svg class="ab" style="left:0;top:650px" width="300" height="94" viewBox="0 650 300 94"><circle cx="54" cy="699.2" r="24.6" fill="none" stroke="#3e78a9" stroke-width="4.4"/><g stroke="#3e78a9" stroke-width="2" fill="none" stroke-linecap="butt"><path d="M70.8,687.4 H61.6 L57.8,705.3 H40.5"/><path d="M35.7,694 H60.2"/><path d="M38.4,699.7 H59"/></g><circle cx="42.4" cy="711.8" r="2" fill="#3e78a9"/><circle cx="58.8" cy="711.6" r="3.3" fill="#3e78a9"/></svg>
<div class="ab" style="left:84px;top:682px;font-size:13px;line-height:17px;letter-spacing:1.9px;color:#555;white-space:nowrap">订购范例</div>
<div class="ab" style="left:83.5px;top:701.3px;font-family:'Liberation Mono',monospace;font-size:12px;line-height:15px;letter-spacing:5.7px;color:#555;white-space:nowrap">Order</div>
<div class="ab" style="left:152.7px;top:671.0px;width:138.5px;height:56.7px;border:1.2px solid #444"></div>
<div class="ln" style="left:153.2px;top:689.20px;width:137.5px;height:1px;background:#666"></div>
<div class="ln" style="left:153.2px;top:707.90px;width:137.5px;height:1px;background:#666"></div>
<div class="ln" style="left:212.30px;top:689.7px;width:1px;height:37.5px;background:#666"></div>
<div class="ln" style="left:229.70px;top:689.7px;width:1px;height:37.5px;background:#666"></div>
<div class="c" style="left:153.2px;top:671.5px;width:137.5px;height:18.2px;"><span style="font-size:12.6px;color:#333">标准品名：关节轴承</span></div>
<div class="c" style="left:153.2px;top:689.7px;width:59.6px;height:18.7px;"><span class="oc">1</span><span style="font-size:13px;color:#333">类型码</span></div>
<div class="c" style="left:212.8px;top:689.7px;width:17.4px;height:18.7px;"><span class="lat" style="font-size:12px;color:#333">-</span></div>
<div class="c" style="left:230.2px;top:689.7px;width:60.5px;height:18.7px;"><span class="oc">2</span><span class="lat" style="font-size:13px;color:#333">d</span></div>
<div class="c" style="left:153.2px;top:708.4px;width:59.6px;height:18.8px;"><span class="b lat" style="font-size:12.5px;display:inline-block;transform:scaleX(.82)">REBD</span></div>
<div class="c" style="left:212.8px;top:708.4px;width:17.4px;height:18.8px;"><span class="b lat" style="font-size:12px">-</span></div>
<div class="c" style="left:230.2px;top:708.4px;width:60.5px;height:18.8px;"><span class="b lat" style="font-size:12.5px">4</span></div>
<svg class="ab" style="left:570px;top:660px" width="70" height="80" viewBox="570 660 70 80"><circle cx="604.8" cy="699.2" r="24.4" fill="none" stroke="#3e78a9" stroke-width="4.4"/><g stroke="#3e78a9" stroke-width="1.3" fill="#fff" stroke-linejoin="round"><path d="M596.4,684.3 H604.6 L617.6,693.4 L610.4,694 Z"/><path d="M590.1,694.3 L604.7,703.5 L604.7,714 L590.1,704.8 Z"/><path d="M604.7,703.5 L619,694.6 L619,704.8 L604.7,714 Z"/><path d="M590.1,694.3 L598.6,688.6 L619,694.6 L604.7,703.5 Z"/></g><path d="M597.6,688.9 L610.6,694.1 L618.4,694.4 L609.9,699.2 L597.4,691.2 Z" fill="#3e78a9"/><path d="M592.3,699.1 L601.7,703.5 L601.7,709.9 L592.3,705.3 Z" fill="#3e78a9"/></svg>
<div class="ab" style="left:634.5px;top:682.5px;font-size:13px;line-height:17px;letter-spacing:9.4px;color:#555;white-space:nowrap">交货期</div>
<div class="ab" style="left:634.3px;top:701.3px;font-family:'Liberation Mono',monospace;font-size:12px;line-height:15px;color:#555;white-space:nowrap">Delivery</div>
<div class="ab" style="left:704.2px;top:684.7px;width:89.2px;height:28.7px;border:1.1px solid #4a4a4a;border-radius:4.5px;background:#fce68c"></div>
<div class="ab" style="left:704.2px;top:684.7px;width:89.2px;height:28.7px;display:flex;align-items:center;justify-content:center;font-size:20.5px;color:#222;padding-bottom:2px">库存品</div>
<svg class="ab" style="left:0;top:0" width="910" height="744" viewBox="0 0 910 744"><g fill="#111" shape-rendering="crispEdges"><rect x="820.70" y="661.40" width="16.64" height="2.42"/><rect x="839.66" y="661.40" width="11.90" height="2.42"/><rect x="853.88" y="661.40" width="4.79" height="2.42"/><rect x="863.36" y="661.40" width="16.64" height="2.42"/><rect x="820.70" y="663.77" width="2.42" height="2.42"/><rect x="834.92" y="663.77" width="2.42" height="2.42"/><rect x="839.66" y="663.77" width="7.16" height="2.42"/><rect x="849.14" y="663.77" width="4.79" height="2.42"/><rect x="856.25" y="663.77" width="4.79" height="2.42"/><rect x="863.36" y="663.77" width="2.42" height="2.42"/><rect x="877.58" y="663.77" width="2.42" height="2.42"/><rect x="820.70" y="666.14" width="2.42" height="2.42"/><rect x="825.44" y="666.14" width="7.16" height="2.42"/><rect x="834.92" y="666.14" width="2.42" height="2.42"/><rect x="846.77" y="666.14" width="2.42" height="2.42"/><rect x="856.25" y="666.14" width="2.42" height="2.42"/><rect x="863.36" y="666.14" width="2.42" height="2.42"/><rect x="868.10" y="666.14" width="7.16" height="2.42"/><rect x="877.58" y="666.14" width="2.42" height="2.42"/><rect x="820.70" y="668.51" width="2.42" height="2.42"/><rect x="825.44" y="668.51" width="7.16" height="2.42"/><rect x="834.92" y="668.51" width="2.42" height="2.42"/><rect x="842.03" y="668.51" width="7.16" height="2.42"/><rect x="851.51" y="668.51" width="4.79" height="2.42"/><rect x="863.36" y="668.51" width="2.42" height="2.42"/><rect x="868.10" y="668.51" width="7.16" height="2.42"/><rect x="877.58" y="668.51" width="2.42" height="2.42"/><rect x="820.70" y="670.88" width="2.42" height="2.42"/><rect x="825.44" y="670.88" width="7.16" height="2.42"/><rect x="834.92" y="670.88" width="2.42" height="2.42"/><rect x="839.66" y="670.88" width="2.42" height="2.42"/><rect x="856.25" y="670.88" width="2.42" height="2.42"/><rect x="863.36" y="670.88" width="2.42" height="2.42"/><rect x="868.10" y="670.88" width="7.16" height="2.42"/><rect x="877.58" y="670.88" width="2.42" height="2.42"/><rect x="820.70" y="673.25" width="2.42" height="2.42"/><rect x="834.92" y="673.25" width="2.42" height="2.42"/><rect x="839.66" y="673.25" width="4.79" height="2.42"/><rect x="849.14" y="673.25" width="11.90" height="2.42"/><rect x="863.36" y="673.25" width="2.42" height="2.42"/><rect x="877.58" y="673.25" width="2.42" height="2.42"/><rect x="820.70" y="675.62" width="16.64" height="2.42"/><rect x="839.66" y="675.62" width="2.42" height="2.42"/><rect x="844.40" y="675.62" width="2.42" height="2.42"/><rect x="849.14" y="675.62" width="2.42" height="2.42"/><rect x="853.88" y="675.62" width="2.42" height="2.42"/><rect x="858.62" y="675.62" width="2.42" height="2.42"/><rect x="863.36" y="675.62" width="16.64" height="2.42"/><rect x="844.40" y="677.99" width="2.42" height="2.42"/><rect x="853.88" y="677.99" width="7.16" height="2.42"/><rect x="820.70" y="680.36" width="2.42" height="2.42"/><rect x="832.55" y="680.36" width="4.79" height="2.42"/><rect x="839.66" y="680.36" width="2.42" height="2.42"/><rect x="846.77" y="680.36" width="4.79" height="2.42"/><rect x="856.25" y="680.36" width="7.16" height="2.42"/><rect x="868.10" y="680.36" width="2.42" height="2.42"/><rect x="877.58" y="680.36" width="2.42" height="2.42"/><rect x="823.07" y="682.73" width="4.79" height="2.42"/><rect x="837.29" y="682.73" width="2.42" height="2.42"/><rect x="844.40" y="682.73" width="9.53" height="2.42"/><rect x="856.25" y="682.73" width="7.16" height="2.42"/><rect x="865.73" y="682.73" width="4.79" height="2.42"/><rect x="875.21" y="682.73" width="2.42" height="2.42"/><rect x="827.81" y="685.10" width="9.53" height="2.42"/><rect x="839.66" y="685.10" width="4.79" height="2.42"/><rect x="849.14" y="685.10" width="2.42" height="2.42"/><rect x="858.62" y="685.10" width="2.42" height="2.42"/><rect x="863.36" y="685.10" width="4.79" height="2.42"/><rect x="820.70" y="687.47" width="2.42" height="2.42"/><rect x="832.55" y="687.47" width="2.42" height="2.42"/><rect x="837.29" y="687.47" width="2.42" height="2.42"/><rect x="849.14" y="687.47" width="2.42" height="2.42"/><rect x="858.62" y="687.47" width="14.27" height="2.42"/><rect x="820.70" y="689.84" width="2.42" height="2.42"/><rect x="827.81" y="689.84" width="2.42" height="2.42"/><rect x="834.92" y="689.84" width="2.42" height="2.42"/><rect x="839.66" y="689.84" width="4.79" height="2.42"/><rect x="849.14" y="689.84" width="4.79" height="2.42"/><rect x="856.25" y="689.84" width="7.16" height="2.42"/><rect x="865.73" y="689.84" width="2.42" height="2.42"/><rect x="870.47" y="689.84" width="7.16" height="2.42"/><rect x="823.07" y="692.21" width="2.42" height="2.42"/><rect x="832.55" y="692.21" width="2.42" height="2.42"/><rect x="837.29" y="692.21" width="2.42" height="2.42"/><rect x="842.03" y="692.21" width="7.16" height="2.42"/><rect x="853.88" y="692.21" width="4.79" height="2.42"/><rect x="865.73" y="692.21" width="4.79" height="2.42"/><rect x="872.84" y="692.21" width="4.79" height="2.42"/><rect x="825.44" y="694.58" width="2.42" height="2.42"/><rect x="830.18" y="694.58" width="2.42" height="2.42"/><rect x="834.92" y="694.58" width="4.79" height="2.42"/><rect x="844.40" y="694.58" width="4.79" height="2.42"/><rect x="851.51" y="694.58" width="16.64" height="2.42"/><rect x="870.47" y="694.58" width="2.42" height="2.42"/><rect x="875.21" y="694.58" width="4.79" height="2.42"/><rect x="820.70" y="696.95" width="7.16" height="2.42"/><rect x="832.55" y="696.95" width="2.42" height="2.42"/><rect x="839.66" y="696.95" width="2.42" height="2.42"/><rect x="844.40" y="696.95" width="4.79" height="2.42"/><rect x="851.51" y="696.95" width="2.42" height="2.42"/><rect x="860.99" y="696.95" width="2.42" height="2.42"/><rect x="870.47" y="696.95" width="9.53" height="2.42"/><rect x="820.70" y="699.32" width="2.42" height="2.42"/><rect x="825.44" y="699.32" width="7.16" height="2.42"/><rect x="834.92" y="699.32" width="2.42" height="2.42"/><rect x="839.66" y="699.32" width="16.64" height="2.42"/><rect x="858.62" y="699.32" width="21.38" height="2.42"/><rect x="839.66" y="701.69" width="7.16" height="2.42"/><rect x="858.62" y="701.69" width="2.42" height="2.42"/><rect x="868.10" y="701.69" width="2.42" height="2.42"/><rect x="875.21" y="701.69" width="2.42" height="2.42"/><rect x="820.70" y="704.06" width="16.64" height="2.42"/><rect x="853.88" y="704.06" width="7.16" height="2.42"/><rect x="863.36" y="704.06" width="2.42" height="2.42"/><rect x="868.10" y="704.06" width="2.42" height="2.42"/><rect x="877.58" y="704.06" width="2.42" height="2.42"/><rect x="820.70" y="706.43" width="2.42" height="2.42"/><rect x="834.92" y="706.43" width="2.42" height="2.42"/><rect x="839.66" y="706.43" width="7.16" height="2.42"/><rect x="849.14" y="706.43" width="2.42" height="2.42"/><rect x="856.25" y="706.43" width="4.79" height="2.42"/><rect x="868.10" y="706.43" width="2.42" height="2.42"/><rect x="872.84" y="706.43" width="7.16" height="2.42"/><rect x="820.70" y="708.80" width="2.42" height="2.42"/><rect x="825.44" y="708.80" width="7.16" height="2.42"/><rect x="834.92" y="708.80" width="2.42" height="2.42"/><rect x="842.03" y="708.80" width="2.42" height="2.42"/><rect x="846.77" y="708.80" width="7.16" height="2.42"/><rect x="856.25" y="708.80" width="14.27" height="2.42"/><rect x="872.84" y="708.80" width="7.16" height="2.42"/><rect x="820.70" y="711.17" width="2.42" height="2.42"/><rect x="825.44" y="711.17" width="7.16" height="2.42"/><rect x="834.92" y="711.17" width="2.42" height="2.42"/><rect x="846.77" y="711.17" width="2.42" height="2.42"/><rect x="851.51" y="711.17" width="21.38" height="2.42"/><rect x="875.21" y="711.17" width="2.42" height="2.42"/><rect x="820.70" y="713.54" width="2.42" height="2.42"/><rect x="825.44" y="713.54" width="7.16" height="2.42"/><rect x="834.92" y="713.54" width="2.42" height="2.42"/><rect x="844.40" y="713.54" width="11.90" height="2.42"/><rect x="858.62" y="713.54" width="2.42" height="2.42"/><rect x="863.36" y="713.54" width="4.79" height="2.42"/><rect x="870.47" y="713.54" width="4.79" height="2.42"/><rect x="820.70" y="715.91" width="2.42" height="2.42"/><rect x="834.92" y="715.91" width="2.42" height="2.42"/><rect x="839.66" y="715.91" width="2.42" height="2.42"/><rect x="846.77" y="715.91" width="4.79" height="2.42"/><rect x="853.88" y="715.91" width="9.53" height="2.42"/><rect x="868.10" y="715.91" width="2.42" height="2.42"/><rect x="872.84" y="715.91" width="2.42" height="2.42"/><rect x="877.58" y="715.91" width="2.42" height="2.42"/><rect x="820.70" y="718.28" width="16.64" height="2.42"/><rect x="839.66" y="718.28" width="19.01" height="2.42"/><rect x="865.73" y="718.28" width="4.79" height="2.42"/><rect x="872.84" y="718.28" width="7.16" height="2.42"/></g></svg>
<div class="ab" style="left:820px;top:724px;width:61px;text-align:center;font-size:12.5px;line-height:17px;color:#333;white-space:nowrap">扫码查价</div>
<svg class="ab" style="left:0;top:0;pointer-events:none" width="910" height="744" viewBox="0 0 910 744"><g fill="none" stroke="#9fcdee" stroke-opacity=".55" stroke-width="2"><text x="302" y="443" transform="rotate(-43.6 302 443)" font-family="Liberation Sans, sans-serif" font-size="128" font-weight="bold" letter-spacing="6">SAML</text><g transform="translate(578 129) rotate(45)"><path transform="rotate(0)" d="M-4,-37 H-23 A14,14 0 0 0 -37,-23 V-4 H-22 V-12 A10,10 0 0 1 -12,-22 H-4 Z"/><path transform="rotate(90)" d="M-4,-37 H-23 A14,14 0 0 0 -37,-23 V-4 H-22 V-12 A10,10 0 0 1 -12,-22 H-4 Z"/><path transform="rotate(180)" d="M-4,-37 H-23 A14,14 0 0 0 -37,-23 V-4 H-22 V-12 A10,10 0 0 1 -12,-22 H-4 Z"/><path transform="rotate(270)" d="M-4,-37 H-23 A14,14 0 0 0 -37,-23 V-4 H-22 V-12 A10,10 0 0 1 -12,-22 H-4 Z"/><path d="M-12,-3 V-8 A4,4 0 0 1 -8,-12 H8 A4,4 0 0 1 12,-8 V8 A4,4 0 0 1 8,12 H-8 A4,4 0 0 1 -12,8 Z"/></g></g></svg>
</body></html>
